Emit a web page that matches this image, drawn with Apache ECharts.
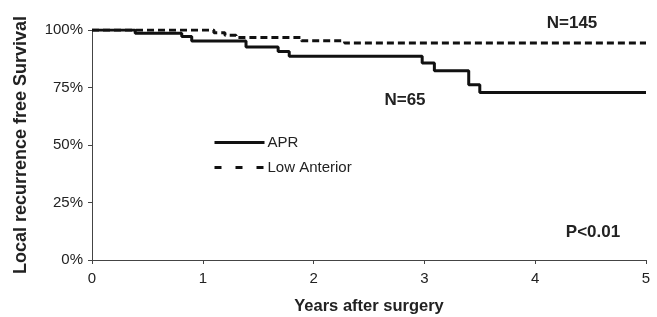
<!DOCTYPE html>
<html>
<head>
<meta charset="utf-8">
<script src="https://cdn.jsdelivr.net/npm/echarts@6/dist/echarts.min.js"></script>
<style>
  html, body { margin: 0; padding: 0; background: #fff; }
  #chart { width: 657px; height: 317px; }
</style>
</head>
<body>
<div id="chart"></div>
<script>
// Kaplan-Meier steps: [year, survival %]
var aprSteps = [[0, 100], [0.39, 98.6], [0.81, 97.2], [0.9, 95.2], [1.39, 92.6], [1.68, 90.7], [1.78, 88.6],
  [2.98, 85.6], [3.09, 82.3], [3.4, 76.2], [3.5, 72.8], [5, 72.8]];
var lowAntSteps = [[0, 100], [1.1, 98.8], [1.2, 97.7], [1.3, 96.7], [1.89, 95.3], [2.28, 94.3], [5, 94.3]];
var yTicks = [0, 25, 50, 75, 100];
var xTicks = [0, 1, 2, 3, 4, 5];

var chart = echarts.init(document.getElementById('chart'));
var font = 'Liberation Sans, Arial, sans-serif';

chart.setOption({
  animation: false,
  grid: { left: 92, right: 11, top: 30, bottom: 57, outerBoundsMode: 'none' },
  xAxis: {
    type: 'value',
    min: xTicks[0],
    max: xTicks[xTicks.length - 1],
    interval: 1,
    name: 'Years after surgery',
    nameLocation: 'middle',
    nameGap: 38,
    nameTextStyle: { fontFamily: font, fontSize: 16.5, fontWeight: 'bold', color: '#222' },
    axisLine: { lineStyle: { color: '#444', width: 1 } },
    axisTick: { length: 4, lineStyle: { color: '#444' } },
    axisLabel: { fontFamily: font, fontSize: 15, color: '#222', margin: 11 },
    splitLine: { show: false }
  },
  yAxis: {
    type: 'value',
    min: yTicks[0],
    max: yTicks[yTicks.length - 1],
    interval: 25,
    name: 'Local recurrence free Survival',
    nameLocation: 'middle',
    nameGap: 62,
    nameTextStyle: { fontFamily: font, fontSize: 18, fontWeight: 'bold', color: '#222' },
    axisLine: { show: true, lineStyle: { color: '#444', width: 1 } },
    axisTick: { show: true, length: 4, lineStyle: { color: '#444' } },
    axisLabel: { fontFamily: font, fontSize: 15, color: '#222', margin: 9, formatter: '{value}%' },
    splitLine: { show: false }
  },
  legend: {
    orient: 'vertical',
    left: 213,
    top: 135,
    padding: 0,
    itemWidth: 50,
    itemHeight: 14,
    itemGap: 10,
    itemStyle: { opacity: 0 },
    textStyle: { fontFamily: font, fontSize: 15, color: '#222', padding: [0, 0, 0, -2] },
    data: [
      { name: 'APR', lineStyle: { width: 3, type: 'solid' } },
      { name: 'Low Anterior', lineStyle: { width: 3, type: [7, 14] } }
    ]
  },
  series: [
    {
      name: 'APR',
      type: 'line',
      step: 'end',
      symbol: 'none',
      data: aprSteps,
      lineStyle: { color: '#111', width: 3 },
      itemStyle: { color: '#111' }
    },
    {
      name: 'Low Anterior',
      type: 'line',
      step: 'end',
      symbol: 'none',
      data: lowAntSteps,
      lineStyle: { color: '#111', width: 3, type: [7, 4] },
      itemStyle: { color: '#111' }
    }
  ],
  graphic: [
    { type: 'text', x: 572, y: 23.5, style: { text: 'N=145', font: 'bold 17px ' + font, fill: '#222', align: 'center', verticalAlign: 'middle' } },
    { type: 'text', x: 405, y: 100.5, style: { text: 'N=65', font: 'bold 17px ' + font, fill: '#222', align: 'center', verticalAlign: 'middle' } },
    { type: 'text', x: 593, y: 232.5, style: { text: 'P<0.01', font: 'bold 17px ' + font, fill: '#222', align: 'center', verticalAlign: 'middle' } }
  ]
});
</script>
</body>
</html>
